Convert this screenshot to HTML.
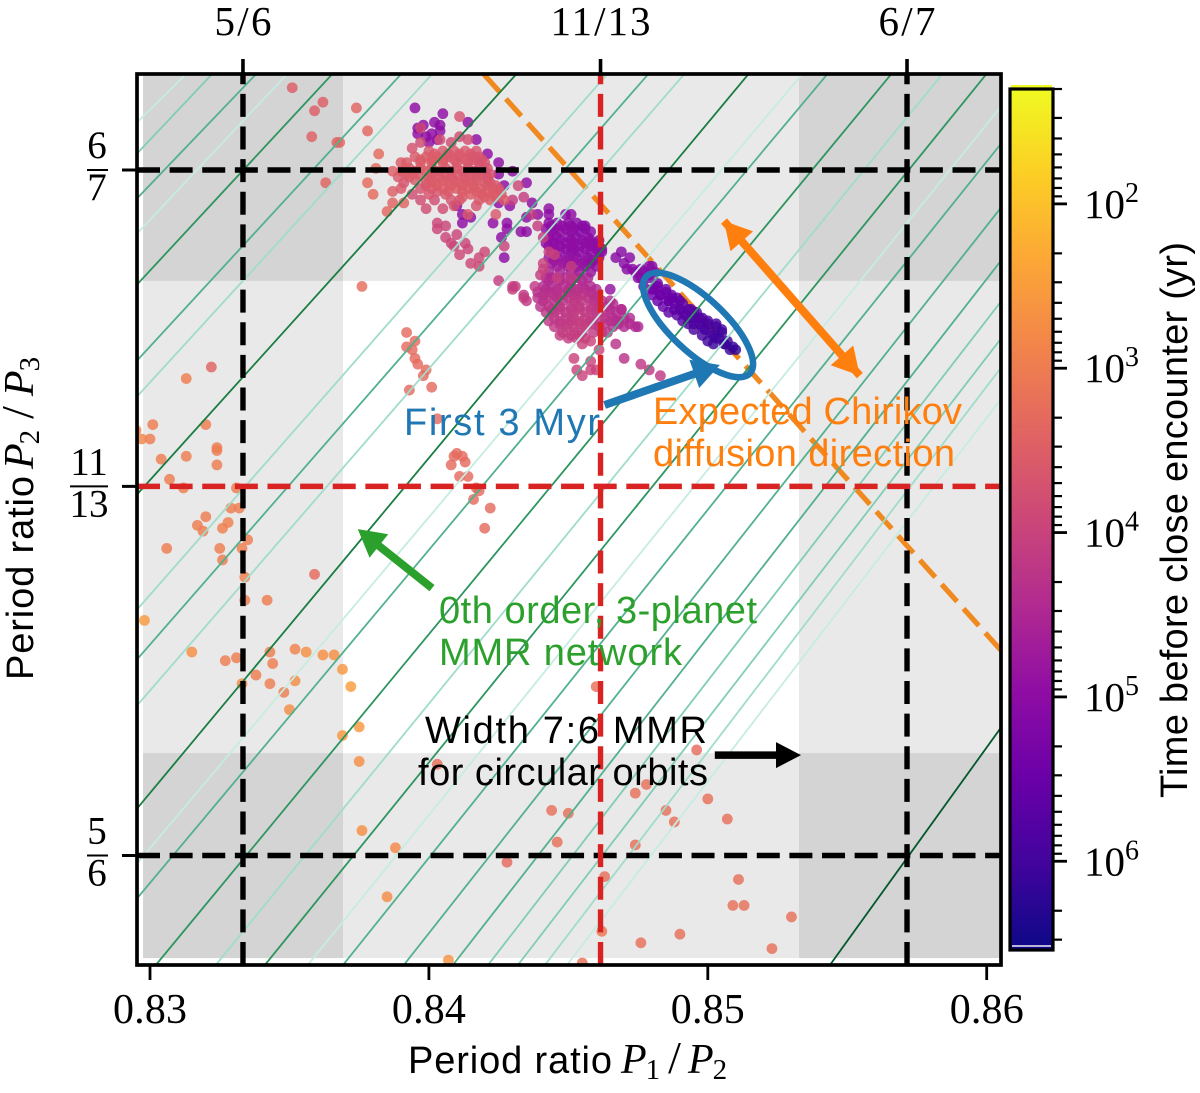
<!DOCTYPE html>
<html lang="en">
<head>
<meta charset="utf-8">
<title>Period ratio diagram</title>
<style>
html,body{margin:0;padding:0;background:#fff;}
svg{display:block;}
.sans{font-family:"Liberation Sans",sans-serif;}
.serif{font-family:"Liberation Serif",serif;}
</style>
</head>
<body>
<svg id="chart" xmlns="http://www.w3.org/2000/svg" width="1200" height="1093" viewBox="0 0 1200 1093">
<defs>
<clipPath id="axes-clip"><rect x="137" y="74" width="864" height="891"></rect></clipPath>
<linearGradient id="plasma" x1="0" y1="1" x2="0" y2="0"></linearGradient>
</defs>
<g id="layer-bands" clip-path="url(#axes-clip)"></g>
<g id="layer-chirikov" clip-path="url(#axes-clip)"></g>
<g id="layer-points" clip-path="url(#axes-clip)"></g>
<g id="layer-mmr" clip-path="url(#axes-clip)"></g>
<g id="layer-resonance" clip-path="url(#axes-clip)"></g>
<g id="layer-annot"></g>
<g id="layer-axes"></g>
<g id="layer-colorbar"></g>

<g class="sans" font-size="38">
<text x="404" y="435" fill="#1f77b4" textLength="196">First 3 Myr</text>
<text x="653" y="424" fill="#ff7f0e" textLength="309">Expected Chirikov</text>
<text x="653" y="466" fill="#ff7f0e" textLength="302">diffusion direction</text>
<text x="439" y="623" fill="#2ca02c" textLength="318">0th order, 3-planet</text>
<text x="439" y="665" fill="#2ca02c" textLength="243">MMR network</text>
<text x="425" y="743" fill="#000" textLength="282">Width 7:6 MMR</text>
<text x="418" y="785" fill="#000" textLength="290">for circular orbits</text>
<text x="408" y="1073" fill="#000" textLength="204">Period ratio</text>
<text transform="translate(33,680) rotate(-90)" fill="#000" textLength="204">Period ratio</text>
<text transform="translate(1187,798) rotate(-90)" fill="#000" textLength="556">Time before close encounter (yr)</text>
</g>
<g class="serif" font-size="42" fill="#000">
<text x="621" y="1073" font-style="italic">P<tspan font-size="29" font-style="normal" dx="-1" dy="6">1</tspan><tspan font-size="46" font-style="normal" dx="8" dy="-6">/</tspan><tspan dx="7">P</tspan><tspan font-size="29" font-style="normal" dx="-1" dy="6">2</tspan></text>
<text transform="translate(33,469) rotate(-90)" font-style="italic">P<tspan font-size="29" font-style="normal" dx="-1" dy="6">2</tspan><tspan font-size="46" font-style="normal" dx="11" dy="-6">/</tspan><tspan dx="10">P</tspan><tspan font-size="29" font-style="normal" dx="-1" dy="6">3</tspan></text>
</g>
</svg>

<script>
// ---------- axis scale anchors (data value -> pixel) ----------
const xDomain = [0.83, 0.86];
const xRange = [150, 986.7];
const yDomain = [5 / 6, 6 / 7];
const yRange = [855.5, 170];

// ---------- tick labels ----------
const xTicks = [0.83, 0.84, 0.85, 0.86];
const xTickLabels = ['0.83', '0.84', '0.85', '0.86'];
const resonanceNum = [5, 11, 6];
const resonanceDen = [6, 13, 7];
const resonanceKind = ['black', 'red', 'black'];

// ---------- grey MMR-width bands ----------
const verticalBands = [[0.82975, 0.83692], [0.85327, 0.8605]];
const horizontalBands = [[0.82977, 0.83689], [0.85329, 0.8605]];

// ---------- 0th order 3-planet MMR lines: [P1/P2, P2/P3] start, [P1/P2, P2/P3] end ----------
const mmrStart = [
 [0.82955,0.85881],[0.82955,0.85773],[0.82955,0.85617],[0.82955,0.85495],[0.82955,0.85318],
 [0.82955,0.85054],[0.82955,0.84929],[0.82955,0.84589],[0.82955,0.84189],[0.82955,0.84016],
 [0.82955,0.83856],[0.82955,0.83498],[0.82955,0.83307],[0.82955,0.83186],[0.83021,0.82953],
 [0.83236,0.82953],[0.83412,0.82953],[0.83566,0.82953],[0.83692,0.82953],[0.8391,0.82953],
 [0.84086,0.82953],[0.84212,0.82953],[0.84319,0.82953],[0.84416,0.82953],[0.84495,0.82953],
 [0.85438,0.82953]
];
const mmrEnd = [
 [0.83132,0.8605],[0.83225,0.8605],[0.83383,0.8605],[0.83494,0.8605],[0.83656,0.8605],
 [0.83903,0.8605],[0.84014,0.8605],[0.84316,0.8605],[0.84642,0.8605],[0.84789,0.8605],
 [0.84918,0.8605],[0.85148,0.8605],[0.85341,0.8605],[0.85431,0.8605],[0.8566,0.8605],
 [0.85843,0.8605],[0.86001,0.8605],[0.8605,0.85933],[0.8605,0.85804],[0.8605,0.85582],
 [0.8605,0.85398],[0.8605,0.85256],[0.8605,0.85127],[0.8605,0.85026],[0.8605,0.84917],
 [0.8605,0.83776]
];
const mmrStrength = [0,2,3,0,4,3,1,5,1,3,1,5,0,3,4,1,4,0,3,3,3,2,2,1,0,6];
const mmrPalette = ['#c6ece1','#a0dcca','#80cdb4','#52b08d','#2f9560','#1a7d42','#03592c'];

// ---------- Chirikov direction ----------
const chirikovP1P2 = [0.8605, 0.84194];
const chirikovP2P3 = [0.84047, 0.8605];

// ---------- scatter: [P1/P2, P2/P3, log10(time before encounter)] ----------
const scatterUpperLeft = [
[.8351,.8600,3.5],[.8362,.8595,3.5],[.8359,.8592,3.5],[.8374,.8593,3.4],[.8378,.8585,3.35],[.8358,.8583,3.45],
[.8367,.8581,3.4],[.8368,.8581,3.35],[.8382,.8577,3.3],[.8381,.8572,3.3],[.8363,.8567,3.4],[.8378,.8567,3.3],
[.8380,.8563,3.3],[.8385,.8557,3.35],[.8387,.8560,3.4],[.8387,.8564,3.5],[.8391,.8560,3.4],[.8390,.8565,3.6],[.8376,.8531,3.25]
];
const scatterUpperPurple = [
[.8395,.8593,5],[.8405,.8591,5],[.8414,.8588,5],[.8396,.8586,5],[.8398,.8587,5],[.8402,.8588,5],[.8404,.8587,5],
[.8401,.8584,5],[.8396,.8584,5],[.8400,.8581,5],[.8417,.8582,5],[.8421,.8577,5],[.8425,.8574,5],[.8430,.8571,5],
[.8425,.8570,5],[.8427,.8566,5],[.8435,.8567,5],[.8410,.8559,5],[.8412,.8556,5],[.8412,.8553,5],[.8415,.8555,5],
[.8423,.8553,5],[.8428,.8553,5],[.8428,.8551,5],[.8426,.8548,5],[.8427,.8541,5],[.8425,.8560,5],[.8429,.8559,5],
[.8435,.8555,5],[.8439,.8556,5],[.8433,.8550,5],[.8435,.8550,5],[.8437,.8560,5],[.8404,.8585,5],[.8399,.8583,5],[.8403,.8582,5]
];
const scatterUpperPink = [
[.8411,.8590,3.7],[.8397,.8586,3.9],[.8397,.8581,3.8],[.8411,.8583,3.8],[.8414,.8582,3.8],[.8404,.8582,3.8],[.8408,.8581,3.8],
[.8394,.8579,3.7],[.8432,.8566,3.9],
[.8400,.8578,3.6],[.8405,.8578,3.6],[.8409,.8578,3.6],[.8413,.8578,3.6],[.8417,.8578,3.7],
[.8395,.8576,3.6],[.8399,.8576,3.55],[.8403,.8576,3.55],[.8407,.8576,3.6],[.8411,.8576,3.65],[.8415,.8576,3.65],[.8418,.8576,3.7],
[.8390,.8574,3.55],[.8392,.8574,3.55],[.8397,.8574,3.55],[.8401,.8574,3.55],[.8405,.8574,3.6],[.8410,.8574,3.65],[.8414,.8574,3.65],[.8418,.8574,3.7],[.8420,.8574,3.7],
[.8387,.8571,3.5],[.8390,.8571,3.55],[.8395,.8571,3.55],[.8399,.8571,3.55],[.8403,.8571,3.6],[.8408,.8571,3.65],[.8412,.8571,3.65],[.8416,.8571,3.7],[.8420,.8571,3.7],
[.8389,.8569,3.6],[.8393,.8569,3.6],[.8400,.8569,3.6],[.8404,.8569,3.6],[.8408,.8569,3.6],[.8413,.8569,3.65],[.8417,.8569,3.7],[.8421,.8569,3.7],
[.8391,.8567,3.7],[.8399,.8567,3.6],[.8402,.8567,3.55],[.8407,.8567,3.55],[.8411,.8567,3.6],[.8415,.8567,3.6],[.8420,.8567,3.6],[.8422,.8567,3.7],
[.8397,.8565,3.7],[.8401,.8565,3.6],[.8405,.8565,3.55],[.8410,.8565,3.55],[.8414,.8565,3.55],[.8418,.8565,3.6],[.8423,.8565,3.6],[.8425,.8565,3.65],
[.8394,.8563,3.8],[.8400,.8563,3.7],[.8406,.8563,3.6],[.8415,.8563,3.55],[.8419,.8563,3.55],[.8423,.8563,3.55],[.8426,.8563,3.6],
[.8397,.8561,3.8],[.8402,.8561,3.8],[.8408,.8561,3.7],[.8411,.8561,3.65],[.8418,.8561,3.6],[.8422,.8561,3.6],[.8427,.8561,3.6],
[.8399,.8558,3.8],[.8405,.8558,3.8],[.8409,.8559,3.7],[.8414,.8556,3.6],[.8417,.8559,3.7],[.8424,.8556,3.6]
];
const scatterUpperPinkFill = [
[.8402,.8577,3.6],[.8407,.8577,3.6],[.8411,.8577,3.6],[.8415,.8577,3.65],
[.8397,.8575,3.55],[.8401,.8575,3.55],[.8405,.8575,3.55],[.8409,.8575,3.6],[.8413,.8575,3.6],[.8416,.8575,3.65],[.8419,.8575,3.7],
[.8393,.8572,3.55],[.8397,.8572,3.55],[.8401,.8572,3.55],[.8406,.8572,3.6],[.8410,.8572,3.6],[.8414,.8572,3.65],[.8418,.8572,3.65],[.8421,.8572,3.7],
[.8392,.8570,3.55],[.8396,.8570,3.55],[.8401,.8570,3.6],[.8406,.8570,3.6],[.8410,.8570,3.6],[.8415,.8570,3.6],[.8419,.8570,3.65],[.8422,.8570,3.7],
[.8395,.8568,3.6],[.8401,.8568,3.6],[.8405,.8568,3.6],[.8409,.8568,3.6],[.8413,.8568,3.6],[.8417,.8568,3.6],[.8421,.8568,3.65],
[.8399,.8566,3.65],[.8403,.8566,3.6],[.8408,.8566,3.55],[.8412,.8566,3.55],[.8416,.8566,3.55],[.8421,.8566,3.6],[.8424,.8566,3.6],
[.8403,.8564,3.65],[.8407,.8564,3.6],[.8412,.8564,3.55],[.8417,.8564,3.55],[.8421,.8564,3.55],[.8425,.8564,3.6],
[.8412,.8562,3.6],[.8420,.8562,3.55],[.8424,.8562,3.6]
];
const scatterPinkStrip = [
[.8403,.8553,3.95],[.8406,.8552,3.95],[.8403,.8551,3.95],[.8406,.8548,3.95],[.8408,.8546,3.95],[.8410,.8549,3.95],[.8409,.8545,3.95],
[.8413,.8546,3.95],[.8414,.8544,3.95],[.8411,.8542,3.9],[.8415,.8539,3.9],[.8418,.8541,3.9],[.8420,.8543,3.9],[.8418,.8538,3.9],
[.8425,.8533,4.1],[.8430,.8531,4.1],[.8431,.8531,4.1],[.8434,.8528,4.2],[.8435,.8526,4.2],[.8438,.8531,4.2],[.8430,.8561,4.1],
[.8434,.8562,4.1],[.8439,.8552,4.1],[.8441,.8548,4.1],[.8427,.8545,4.0],[.8437,.8556,4.2],[.8430,.8530,4.1],[.8434,.8527,4.1]
];
const scatterPurpleBlob = [
[.8443,.8558,5],[.8443,.8556,5],[.8449,.8556,5],[.8451,.8556,5],
[.8443,.8553,5],[.8446,.8553,5],[.8450,.8553,5.05],[.8453,.8553,5.05],
[.8442,.8551,5],[.8445,.8551,5],[.8449,.8551,5.05],[.8452,.8551,5.05],[.8456,.8551,5.05],
[.8443,.8548,5],[.8446,.8548,5],[.8450,.8548,5],[.8453,.8548,5.05],[.8457,.8548,5.05],
[.8442,.8546,4.95],[.8445,.8546,5],[.8449,.8546,5],[.8452,.8546,5],[.8456,.8546,5.05],[.8460,.8546,5],
[.8445,.8544,4.95],[.8449,.8544,5],[.8452,.8544,5],[.8456,.8544,5],[.8460,.8544,5],[.8462,.8544,5],
[.8443,.8541,4.9],[.8446,.8541,4.9],[.8450,.8541,4.95],[.8453,.8541,5],[.8457,.8541,5],[.8461,.8541,5],
[.8444,.8539,4.8],[.8448,.8539,4.8],[.8451,.8539,4.85],[.8455,.8539,4.9],[.8458,.8539,4.95],
[.8443,.8536,4.6],[.8447,.8536,4.6],[.8451,.8536,4.7],[.8454,.8536,4.8],[.8458,.8536,4.85],
[.8456,.8552,5.05],[.8458,.8546,5],[.8462,.8543,5.05],[.8467,.8541,5.05],[.8469,.8543,5.05],[.8470,.8539,5.05],[.8473,.8537,5.05],
[.8475,.8534,5.1],[.8476,.8537,5.1],[.8479,.8538,5.1],[.8480,.8538,5.1],[.8472,.8541,5.05],[.8465,.8530,4.9]
];
const scatterPurpleFill = [
[.8444,.8552,5],[.8448,.8552,5],[.8451,.8552,5],[.8455,.8552,5.05],
[.8444,.8550,5],[.8447,.8550,5],[.8451,.8550,5],[.8454,.8550,5.05],[.8458,.8550,5.05],
[.8444,.8547,5],[.8447,.8547,5],[.8451,.8547,5],[.8455,.8547,5],[.8458,.8547,5],[.8461,.8547,5],
[.8443,.8545,5],[.8447,.8545,5],[.8451,.8545,5],[.8454,.8545,5],[.8458,.8545,5],[.8461,.8545,5],
[.8444,.8543,4.95],[.8447,.8543,4.95],[.8451,.8543,5],[.8454,.8543,5],[.8458,.8543,5],[.8461,.8543,5],
[.8445,.8540,4.9],[.8449,.8540,4.9],[.8452,.8540,4.9],[.8456,.8540,4.95],[.8459,.8540,5],
[.8446,.8538,4.75],[.8450,.8538,4.8],[.8453,.8538,4.85],[.8456,.8538,4.9],[.8460,.8538,4.95],
[.8471,.8537,5.05],[.8474,.8536,5.05],[.8476,.8534,5.1],[.8477,.8536,5.1],[.8481,.8536,5.1],[.8479,.8535,5.1]
];
const scatterPinkOverlay = [
[.8443,.8543,4.0],[.8441,.8539,4.0],[.8441,.8537,4.0],[.8445,.8542,4.0],[.8451,.8538,4.1],[.8440,.8535,4.1],[.8446,.8534,4.1],[.8451,.8534,4.2]
];
const scatterLowerBlob = [
[.8442,.8534,4.5],[.8444,.8534,4.5],[.8449,.8534,4.45],[.8453,.8534,4.5],[.8457,.8534,4.6],
[.8441,.8531,4.5],[.8444,.8531,4.5],[.8448,.8531,4.4],[.8451,.8531,4.4],[.8455,.8531,4.45],[.8458,.8531,4.5],
[.8439,.8529,4.4],[.8443,.8529,4.4],[.8446,.8529,4.35],[.8450,.8529,4.3],[.8453,.8529,4.3],[.8458,.8529,4.4],
[.8439,.8527,4.3],[.8442,.8527,4.3],[.8446,.8527,4.3],[.8450,.8527,4.25],[.8453,.8527,4.25],[.8457,.8527,4.3],[.8460,.8527,4.4],
[.8440,.8524,4.3],[.8443,.8524,4.3],[.8447,.8524,4.25],[.8451,.8524,4.2],[.8454,.8524,4.2],[.8458,.8524,4.25],[.8461,.8524,4.35],[.8464,.8524,4.4],
[.8442,.8522,4.25],[.8445,.8522,4.25],[.8449,.8522,4.2],[.8452,.8522,4.15],[.8456,.8522,4.15],[.8460,.8522,4.2],[.8463,.8522,4.3],[.8467,.8522,4.4],
[.8443,.8519,4.2],[.8447,.8519,4.2],[.8451,.8519,4.15],[.8454,.8519,4.1],[.8458,.8519,4.15],[.8461,.8519,4.2],[.8465,.8519,4.35],[.8468,.8519,4.45],
[.8445,.8517,4.2],[.8449,.8517,4.15],[.8452,.8517,4.1],[.8456,.8517,4.1],[.8461,.8517,4.3],[.8466,.8517,4.4],[.8470,.8517,4.45],[.8474,.8517,4.5],
[.8447,.8514,4.1],[.8451,.8514,4.1],[.8454,.8514,4.1],
[.8472,.8520,4.45],[.8475,.8517,4.5],[.8469,.8523,4.45],[.8466,.8525,4.45],[.8467,.8519,4.4],[.8464,.8515,4.3]
];
const scatterLowerFill = [
[.8443,.8533,4.45],[.8447,.8533,4.45],[.8451,.8533,4.45],[.8455,.8533,4.45],
[.8442,.8530,4.4],[.8446,.8530,4.4],[.8450,.8530,4.35],[.8453,.8530,4.35],[.8456,.8530,4.4],[.8460,.8530,4.5],
[.8441,.8528,4.35],[.8445,.8528,4.35],[.8448,.8528,4.3],[.8452,.8528,4.3],[.8455,.8528,4.3],[.8459,.8528,4.35],
[.8441,.8526,4.3],[.8445,.8526,4.3],[.8448,.8526,4.25],[.8452,.8526,4.2],[.8455,.8526,4.2],[.8459,.8526,4.3],[.8462,.8526,4.35],[.8465,.8526,4.4],
[.8444,.8523,4.25],[.8447,.8523,4.2],[.8451,.8523,4.2],[.8454,.8523,4.15],[.8458,.8523,4.2],[.8461,.8523,4.3],[.8465,.8523,4.4],[.8469,.8523,4.45],
[.8445,.8520,4.2],[.8449,.8520,4.2],[.8452,.8520,4.15],[.8456,.8520,4.15],[.8459,.8520,4.2],[.8463,.8520,4.3],[.8466,.8520,4.4],[.8470,.8520,4.45],
[.8447,.8518,4.2],[.8450,.8518,4.15],[.8454,.8518,4.1],[.8457,.8518,4.15],[.8459,.8518,4.2],[.8463,.8518,4.3],[.8468,.8518,4.4],[.8472,.8518,4.45],
[.8448,.8515,4.15],[.8452,.8515,4.1],[.8455,.8515,4.1],[.8459,.8515,4.15],[.8462,.8515,4.2],
[.8450,.8513,4.1],[.8453,.8513,4.1],[.8456,.8513,4.1]
];
const scatterLowerIsolated = [
[.8455,.8511,4.0],[.8458,.8512,4.0],[.8461,.8509,4.0],[.8452,.8506,4.0],[.8458,.8505,4.0],[.8467,.8511,4.3],[.8470,.8506,4.3],
[.8476,.8504,4.2],[.8479,.8502,4.2],[.8483,.8500,4.2],[.8453,.8502,4.0],[.8455,.8500,4.0],[.8458,.8502,4.0],[.8460,.8502,4.0]
];
const scatterFirst3Myr = [
[.8477,.8531,5.3],[.8479,.8534,5.25],[.8480,.8530,5.37],[.8482,.8531,5.37],[.8483,.8528,5.49],[.8485,.8529,5.43],[.8486,.8526,5.55],
[.8487,.8527,5.55],[.8488,.8523,5.67],[.8490,.8526,5.67],[.8491,.8522,5.72],[.8493,.8523,5.72],[.8494,.8520,5.79],[.8495,.8522,5.79],
[.8495,.8518,5.85],[.8497,.8520,5.85],[.8498,.8517,5.9],[.8500,.8519,5.9],[.8501,.8515,5.96],[.8503,.8518,5.96],[.8503,.8513,6.02],
[.8505,.8516,6.02],[.8506,.8511,6.08],[.8507,.8512,6.08],[.8509,.8510,6.14],[.8510,.8509,6.2]
];
const scatterFirst3MyrCore = [
[.8481,.8530,5.37],[.8483,.8528,5.45],[.8486,.8526,5.52],[.8488,.8525,5.6],[.8490,.8523,5.67],[.8492,.8521,5.74],[.8495,.8520,5.81],
[.8497,.8518,5.88],[.8499,.8516,5.95],[.8502,.8514,6.02],[.8504,.8513,6.07],[.8506,.8511,6.12],[.8508,.8509,6.17]
];
const scatterFirst3MyrUpper = [
[.8482,.8532,5.37],[.8485,.8530,5.43],[.8487,.8528,5.5],[.8489,.8527,5.57],[.8491,.8525,5.64],[.8494,.8523,5.71],[.8496,.8522,5.79],
[.8498,.8520,5.86],[.8500,.8518,5.93],[.8503,.8517,6.0],[.8505,.8515,6.05]
];
const scatterFirst3MyrLower = [
[.8480,.8528,5.43],[.8482,.8526,5.5],[.8484,.8524,5.57],[.8486,.8522,5.64],[.8489,.8521,5.71],[.8491,.8519,5.79],[.8493,.8518,5.86],
[.8495,.8516,5.9],[.8498,.8514,5.97],[.8500,.8512,6.05],[.8502,.8511,6.09]
];
const scatterMidRed = [
[.8392,.8515,3.3],[.8395,.8512,3.3],[.8392,.8510,3.3],[.8394,.8509,3.3],[.8395,.8506,3.3],[.8396,.8504,3.3],[.8399,.8502,3.3],
[.8398,.8500,3.3],[.8401,.8496,3.3],[.8393,.8495,3.3],[.8403,.8485,3.3],[.8408,.8469,3.3],[.8410,.8473,3.3],[.8412,.8472,3.3],
[.8409,.8472,3.3],[.8413,.8470,3.3],[.8411,.8465,3.3],[.8414,.8465,3.3],[.8418,.8460,3.3],[.8416,.8457,3.3],[.8422,.8454,3.3],
[.8420,.8447,3.3],[.8417,.8461,3.3]
];
const scatterLeftOrange = [
[.8322,.8503,3.4],[.8313,.8499,3.0],[.8301,.8483,3.0],[.8320,.8483,3.0],[.8295,.8481,2.9],[.8297,.8478,2.85],[.8300,.8478,3.0],
[.8324,.8475,3.0],[.8324,.8474,3.0],[.8313,.8472,3.0],[.8304,.8471,3.0],[.8324,.8469,3.0],[.8307,.8464,3.0],[.8312,.8461,3.0],
[.8331,.8461,3.0],[.8329,.8454,3.0],[.8332,.8454,3.0],[.8320,.8451,3.0],[.8317,.8448,3.0],[.8328,.8449,2.95],[.8326,.8447,2.95],
[.8319,.8446,3.0],[.8335,.8443,3.0],[.8306,.8440,3.0],[.8325,.8440,3.0],[.8333,.8440,2.95],[.8326,.8436,3.0],[.8359,.8431,3.3],
[.8334,.8430,2.95],[.8334,.8422,3.0],[.8342,.8422,3.0],[.8298,.8415,2.55],[.8315,.8404,2.7],[.8327,.8401,3.0],[.8331,.8402,3.0],
[.8343,.8404,3.0],[.8352,.8405,2.9],[.8356,.8404,2.7],[.8362,.8403,2.7],[.8366,.8403,2.7],[.8344,.8400,3.0],[.8369,.8398,2.6],
[.8338,.8396,3.0],[.8343,.8393,3.0],[.8333,.8393,2.75],[.8352,.8394,2.75],[.8348,.8390,3.0],[.8372,.8392,2.5],[.8350,.8384,2.75],
[.8375,.8378,2.55],[.8369,.8375,2.6]
];
const scatterBottom = [
[.8375,.8366,2.7],[.8403,.8365,3.2],[.8460,.8392,3.2],[.8496,.8370,3.3],[.8478,.8358,3.2],[.8474,.8355,3.2],[.8444,.8349,3.2],
[.8450,.8348,3.2],[.8485,.8349,3.2],[.8500,.8353,3.2],[.8507,.8346,3.2],[.8488,.8345,3.2],[.8376,.8342,2.7],[.8446,.8338,3.2],
[.8474,.8337,3.2],[.8388,.8336,2.8],[.8428,.8331,3.3],[.8463,.8326,3.2],[.8511,.8325,3.2],[.8509,.8316,3.2],[.8513,.8316,3.2],
[.8530,.8312,3.2],[.8385,.8319,2.75],[.8462,.8307,3.1],[.8490,.8306,3.2],[.8476,.8303,3.2],[.8523,.8301,3.2],[.8407,.8297,2.65],[.8455,.8296,3.2]
];

// ---------- annotations in data coordinates ----------
const blueArrow = [[0.8463, 0.84898], [0.85043, 0.85037]];
const greenArrow = [[0.84011, 0.84262], [0.83745, 0.84467]];
const orangeArrow = [[0.85058, 0.85537], [0.85545, 0.85]];
const blackArrow = [[0.85025, 0.83682], [0.85334, 0.83682]];
const ellipseCentre = [0.84965, 0.85176];

// ---------- colorbar ----------
const colorbarLogRange = [1.301, 6.54];
const colorbarPixels = [89, 950];
const colorbarMajorExp = [2, 3, 4, 5, 6];
const colorbarMinorValues = [20,30,40,50,60,70,80,90,200,300,400,500,600,700,800,900,2e3,3e3,4e3,5e3,6e3,7e3,8e3,9e3,2e4,3e4,4e4,5e4,6e4,7e4,8e4,9e4,2e5,3e5,4e5,5e5,6e5,7e5,8e5,9e5,2e6,3e6];
const plasmaStops = ['#0d0887','#41049d','#6a00a8','#8f0da4','#b12a90','#cc4778','#e16462','#f2844b','#fca636','#fcce25','#f0f921'];

// ---------- scales ----------
function xPix(v) { return xRange[0] + (v - xDomain[0]) * (xRange[1] - xRange[0]) / (xDomain[1] - xDomain[0]); }
function yPix(v) { return yRange[0] + (v - yDomain[0]) * (yRange[1] - yRange[0]) / (yDomain[1] - yDomain[0]); }
function cbPix(logT) { return colorbarPixels[0] + (logT - colorbarLogRange[0]) * (colorbarPixels[1] - colorbarPixels[0]) / (colorbarLogRange[1] - colorbarLogRange[0]); }
function hex2rgb(h) { return [parseInt(h.slice(1,3),16), parseInt(h.slice(3,5),16), parseInt(h.slice(5,7),16)]; }
function plasma(logT) {
  var f = (colorbarLogRange[1] - logT) / (colorbarLogRange[1] - colorbarLogRange[0]);
  f = Math.max(0, Math.min(1, f)) * (plasmaStops.length - 1);
  var i = Math.min(plasmaStops.length - 2, Math.floor(f)), t = f - i;
  var a = hex2rgb(plasmaStops[i]), b = hex2rgb(plasmaStops[i + 1]);
  return 'rgb(' + [0,1,2].map(function (k) { return Math.round(a[k] + (b[k] - a[k]) * t); }).join(',') + ')';
}
var NS = 'http://www.w3.org/2000/svg';
function make(tag, parentId, attrs, text) {
  var el = document.createElementNS(NS, tag);
  for (var k in attrs) el.setAttribute(k, attrs[k]);
  if (text !== undefined) el.textContent = text;
  document.getElementById(parentId).appendChild(el);
  return el;
}

// ---------- bands ----------
var yBandTop = yPix(0.8605), yBandBottom = yPix(0.82977);
verticalBands.forEach(function (b) {
  var el = make('rect', 'layer-bands', {x: xPix(b[0]), y: yBandTop, width: xPix(b[1]) - xPix(b[0]), height: yBandBottom - yBandTop, fill: '#000', 'fill-opacity': 0.085});
  
  
});
horizontalBands.forEach(function (b) {
  var el = make('rect', 'layer-bands', {x: xPix(0.82975), y: yPix(b[1]), width: xPix(0.8605) - xPix(0.82975), height: yPix(b[0]) - yPix(b[1]), fill: '#000', 'fill-opacity': 0.085});
  
  
});

// ---------- chirikov line ----------
var chirikovLine = make('line', 'layer-chirikov', {x1: xPix(chirikovP1P2[0]), y1: yPix(chirikovP2P3[0]), x2: xPix(chirikovP1P2[1]), y2: yPix(chirikovP2P3[1]), stroke: '#f0891f', 'stroke-width': 5.2, 'stroke-dasharray': '23 9.62'});



// ---------- scatter (oldest first so later points lie on top) ----------
var allPoints = [].concat(scatterUpperLeft, scatterUpperPurple, scatterUpperPink, scatterUpperPinkFill, scatterPinkStrip, scatterPurpleBlob, scatterPurpleFill, scatterPinkOverlay, scatterLowerBlob, scatterLowerFill, scatterLowerIsolated, scatterFirst3Myr, scatterFirst3MyrCore, scatterFirst3MyrUpper, scatterFirst3MyrLower, scatterMidRed, scatterLeftOrange, scatterBottom);
allPoints.slice().sort(function (a, b) { return b[2] - a[2]; }).forEach(function (p) {
  var dot = make('circle', 'layer-points', {cx: xPix(p[0]), cy: yPix(p[1]), r: 5.4, fill: plasma(p[2]), 'fill-opacity': 0.82});
  
  
});

// ---------- MMR network ----------
mmrStart.forEach(function (s, i) {
  var e = mmrEnd[i];
  var ln = make('line', 'layer-mmr', {x1: xPix(s[0]), y1: yPix(s[1]), x2: xPix(e[0]), y2: yPix(e[1]), stroke: mmrPalette[mmrStrength[i]], 'stroke-width': 1.8});
  
  
});

// ---------- resonance lines ----------
[ 'black', 'red' ].forEach(function (kind) {
  resonanceNum.forEach(function (n, i) {
    if (resonanceKind[i] !== kind) return;
    var v = n / resonanceDen[i];
    var colour = kind === 'red' ? '#d92323' : '#000';
    var h = make('line', 'layer-resonance', {x1: 137, y1: yPix(v), x2: 1001, y2: yPix(v), stroke: colour, 'stroke-width': 5.4, 'stroke-dasharray': '23 9.62'});
    
    
    var w = make('line', 'layer-resonance', {x1: xPix(v), y1: 965, x2: xPix(v), y2: 74, stroke: colour, 'stroke-width': 5.4, 'stroke-dasharray': '23 9.62'});
    
    
  });
});

// ---------- annotations ----------
function arrowPoints(t, h, headLen, headW, shaft) {
  var x0 = xPix(t[0]), y0 = yPix(t[1]), x1 = xPix(h[0]), y1 = yPix(h[1]);
  var L = Math.hypot(x1 - x0, y1 - y0), ux = (x1 - x0) / L, uy = (y1 - y0) / L, nx = -uy, ny = ux;
  var bx = x1 - ux * headLen, by = y1 - uy * headLen;
  var pts = [[x0 + nx * shaft / 2, y0 + ny * shaft / 2], [bx + nx * shaft / 2, by + ny * shaft / 2], [bx + nx * headW / 2, by + ny * headW / 2], [x1, y1], [bx - nx * headW / 2, by - ny * headW / 2], [bx - nx * shaft / 2, by - ny * shaft / 2], [x0 - nx * shaft / 2, y0 - ny * shaft / 2]];
  return pts.map(function (p) { return p[0].toFixed(1) + ',' + p[1].toFixed(1); }).join(' ');
}
var ell = make('ellipse', 'layer-annot', {cx: xPix(ellipseCentre[0]), cy: yPix(ellipseCentre[1]), rx: 71, ry: 27, fill: 'none', stroke: '#1f77b4', 'stroke-width': 6.5, transform: 'rotate(43 ' + xPix(ellipseCentre[0]) + ' ' + yPix(ellipseCentre[1]) + ')'});



var aBlue = make('polygon', 'layer-annot', {points: arrowPoints(blueArrow[0], blueArrow[1], 27, 30, 8), fill: '#1f77b4'});


var aGreen = make('polygon', 'layer-annot', {points: arrowPoints(greenArrow[0], greenArrow[1], 27, 30, 8), fill: '#2ca02c'});


var aOrange1 = make('polygon', 'layer-annot', {points: arrowPoints(orangeArrow[0], orangeArrow[1], 27, 30, 8), fill: '#ff7f0e'});


var aOrange2 = make('polygon', 'layer-annot', {points: arrowPoints(orangeArrow[1], orangeArrow[0], 27, 30, 8), fill: '#ff7f0e'});


var aBlack = make('polygon', 'layer-annot', {points: arrowPoints(blackArrow[0], blackArrow[1], 25, 26, 7.5), fill: '#000'});



// ---------- axes ----------
var frame = make('rect', 'layer-axes', {x: 137, y: 74, width: 864, height: 891, fill: 'none', stroke: '#000', 'stroke-width': 3.7});



xTicks.forEach(function (v, i) {
  var t = make('line', 'layer-axes', {x1: xPix(v), x2: xPix(v), y1: 965, y2: 980, stroke: '#000', 'stroke-width': 2.8});
  
  
  var l = make('text', 'layer-axes', {x: xPix(v), y: 1023, 'text-anchor': 'middle', 'font-size': 42, textLength: 74, 'font-family': '"Liberation Serif",serif'}, xTickLabels[i]);
  
  
});
resonanceNum.forEach(function (n, i) {
  var v = n / resonanceDen[i], px = xPix(v), py = yPix(v), two = n > 9;
  var tt = make('line', 'layer-axes', {x1: px, x2: px, y1: 74, y2: 59, stroke: '#000', 'stroke-width': 3.6});
  
  
  var tl = make('text', 'layer-axes', {x: px, y: 35, 'text-anchor': 'middle', 'font-size': 41, textLength: two ? 100 : 57, 'font-family': '"Liberation Serif",serif'}, n + '/' + resonanceDen[i]);
  
  
  var lt = make('line', 'layer-axes', {x1: 122, x2: 137, y1: py, y2: py, stroke: '#000', 'stroke-width': 3});
  
  
  var bar = make('line', 'layer-axes', {x1: two ? 70 : 87, x2: 108, y1: py, y2: py, stroke: '#000', 'stroke-width': 2});
  
  
  var cx = two ? 89 : 97;
  var num = make('text', 'layer-axes', {x: cx, y: py - 12, 'text-anchor': 'middle', 'font-size': 39, 'font-family': '"Liberation Serif",serif'}, String(n));
  
  
  var den = make('text', 'layer-axes', {x: cx, y: py + 30, 'text-anchor': 'middle', 'font-size': 39, 'font-family': '"Liberation Serif",serif'}, String(resonanceDen[i]));
  
  
});

// ---------- colorbar ----------
var grad = document.getElementById('plasma');
plasmaStops.forEach(function (c, i) {
  var st = document.createElementNS(NS, 'stop');
  st.setAttribute('offset', i / (plasmaStops.length - 1));
  st.setAttribute('stop-color', c);
  grad.appendChild(st);
});
var extendTop = make('rect', 'layer-colorbar', {x: 1011, y: 85, width: 41, height: 3, fill: '#f0f921'});


var cbBody = make('rect', 'layer-colorbar', {x: 1010, y: 89, width: 43, height: 861, fill: 'url(#plasma)', stroke: '#000', 'stroke-width': 3.2});


var extendBottom = make('rect', 'layer-colorbar', {x: 1012, y: 945, width: 39, height: 2, fill: '#b9b4d8'});


colorbarMinorValues.forEach(function (v) {
  var yy = cbPix(Math.log10(v));
  var m = make('line', 'layer-colorbar', {x1: 1053, x2: 1062, y1: yy, y2: yy, stroke: '#000', 'stroke-width': 2.2});
  
  
});
colorbarMajorExp.forEach(function (e) {
  var yy = cbPix(e);
  var m = make('line', 'layer-colorbar', {x1: 1053, x2: 1067, y1: yy, y2: yy, stroke: '#000', 'stroke-width': 2.8});
  
  
  var tx = make('text', 'layer-colorbar', {x: 1084, y: yy + 14, 'font-size': 41, 'font-family': '"Liberation Serif",serif'}, '10');
  
  
  var sup = document.createElementNS(NS, 'tspan');
  sup.setAttribute('font-size', '28');
  sup.setAttribute('dy', '-16');
  sup.textContent = String(e);
  tx.appendChild(sup);
});
</script>
</body>
</html>
